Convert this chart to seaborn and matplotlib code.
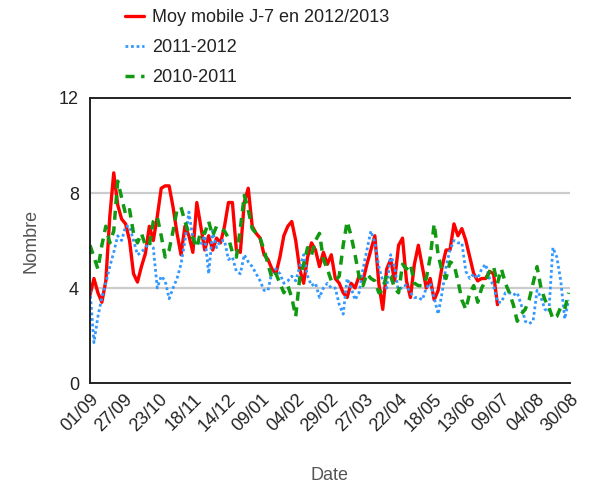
import numpy as np
import pandas as pd
import matplotlib
matplotlib.use("Agg")
import matplotlib.pyplot as plt
import seaborn as sns

# ---------------- data (one value every 3 days) ----------------
start_date = "2011-09-01"
end_date = "2012-08-30"
step = "3D"

red_label = "Moy mobile J-7 en 2012/2013"
blue_label = "2011-2012"
green_label = "2010-2011"

red_values = [
    3.7, 4.4, 3.8, 3.4, 4.3, 7.0, 8.85, 7.5, 6.9, 6.7,
    6.0, 4.6, 4.25, 4.9, 5.45, 6.6, 6.0, 7.0, 8.2, 8.3,
    8.3, 7.4, 6.3, 5.4, 6.6, 6.2, 5.5, 7.6, 6.6, 5.6,
    6.2, 5.6, 6.1, 5.9, 6.6, 7.6, 7.6, 5.6, 5.5, 7.6,
    8.2, 6.6, 6.3, 6.1, 5.4, 5.2, 4.8, 4.6, 5.3, 6.2,
    6.6, 6.8, 6.0, 4.8, 4.2, 5.3, 5.9, 5.6, 4.9, 5.5,
    5.0, 5.4, 4.4, 4.2, 3.8, 3.6, 4.2, 4.0, 4.5, 4.3,
    5.0, 5.6, 6.2, 4.2, 3.1, 4.8, 5.2, 4.3, 5.8, 6.1,
    4.3, 3.6, 5.0, 5.8, 4.9, 4.0, 4.4, 3.5, 3.9, 4.9,
    5.6, 5.6, 6.7, 6.2, 6.5, 6.0, 5.3, 4.6, 4.3, 4.4,
    4.4, 4.7, 4.6, 3.3,
]

blue_values = [
    3.9, 1.7, 2.8, 3.6, 4.2, 4.9, 5.5, 6.2, 6.0, 6.6,
    6.6, 6.0, 5.4, 5.5, 5.7, 5.9, 5.7, 4.0, 4.5, 4.3,
    3.55, 4.0, 4.4, 5.0, 6.0, 7.2, 6.1, 6.0, 5.8, 6.2,
    4.6, 6.4, 5.7, 6.0, 6.0, 5.2, 5.3, 4.7, 4.6, 5.4,
    5.1, 4.9, 4.6, 4.3, 3.9, 3.9, 4.7, 4.8, 4.6, 4.2,
    4.3, 4.5, 4.3, 4.9, 5.4, 4.5, 4.1, 4.2, 3.6, 4.0,
    4.2, 4.0, 4.0, 3.3, 2.9, 4.4, 4.0, 3.5, 3.8, 4.8,
    5.6, 6.4, 5.9, 4.9, 4.3, 4.0, 5.4, 4.9, 3.8, 4.1,
    4.1, 3.8, 3.6, 3.6, 3.5, 4.0, 4.2, 3.6, 2.9, 3.8,
    4.9, 5.6, 6.0, 5.9, 5.9, 4.7, 4.4, 4.6, 4.4, 4.8,
    5.0, 4.4, 4.1, 3.4, 3.4, 3.8, 3.8, 3.7, 3.8, 3.3,
    2.6, 2.5, 2.6, 3.9, 3.6, 3.1, 3.0, 5.7, 5.3, 4.3,
    2.7, 3.5,
]

green_values = [
    5.8, 5.3, 4.8, 5.8, 6.6, 5.9, 6.4, 8.5, 7.8, 7.1,
    7.3, 6.3, 5.9, 6.3, 5.8, 5.8, 6.8, 7.0, 6.2, 5.3,
    5.6, 6.4, 7.3, 7.4, 6.8, 6.3, 6.1, 5.7, 6.4, 6.3,
    6.8, 6.2, 6.6, 6.5, 6.4, 6.1, 5.5, 5.3, 6.5, 7.9,
    7.3, 6.5, 6.3, 6.1, 5.6, 5.0, 4.4, 4.6, 4.2, 3.8,
    4.1, 3.6, 2.8, 4.4, 5.0, 5.7, 5.4, 6.0, 6.3, 5.2,
    4.8, 4.3, 4.3, 4.5, 5.8, 6.8, 6.2, 5.4, 4.5, 4.1,
    4.6, 4.4, 4.3, 3.8, 3.9, 4.6, 4.5, 4.0, 3.8, 5.0,
    4.8, 5.0, 4.2, 4.1, 4.1, 4.4, 5.3, 6.7, 5.4, 4.7,
    4.4, 5.1, 5.0, 4.3, 3.5, 3.1, 3.8, 4.1, 3.4, 4.0,
    4.3, 4.7, 4.9, 4.2, 4.8, 4.2, 3.8, 3.3, 2.6, 2.9,
    3.1, 3.5, 4.2, 4.9, 4.0, 3.5, 3.2, 2.7, 2.8, 3.2,
    3.1, 3.8,
]

tick_labels = ["01/09", "27/09", "23/10", "18/11", "14/12", "09/01", "04/02",
               "29/02", "27/03", "22/04", "18/05", "13/06", "09/07", "04/08", "30/08"]
y_ticks = [0, 4, 8, 12]
x_title = "Date"
y_title = "Nombre"

# ---------------- build frames ----------------
red_df = pd.DataFrame({"date": pd.date_range(start_date, periods=len(red_values), freq=step),
                       "value": red_values})
blue_df = pd.DataFrame({"date": pd.date_range(start_date, periods=len(blue_values), freq=step),
                        "value": blue_values})
green_df = pd.DataFrame({"date": pd.date_range(start_date, periods=len(green_values), freq=step),
                         "value": green_values})
tick_dates = pd.date_range(start_date, end_date, periods=len(tick_labels))

# ---------------- style ----------------
sns.set_theme(style="white")
plt.rcParams["font.family"] = ["Liberation Sans", "DejaVu Sans"]

fig = plt.figure(figsize=(5.89, 4.86), dpi=100)
ax = fig.add_axes([90 / 589, 1 - 383 / 486, 480 / 589, (383 - 98) / 486])

sns.lineplot(data=red_df, x="date", y="value", ax=ax, color="#ff0000",
             linewidth=2.4, label=red_label)
sns.lineplot(data=blue_df, x="date", y="value", ax=ax, color="#3399ff",
             linewidth=2.0, label=blue_label, linestyle=(0, (1, 1)))
sns.lineplot(data=green_df, x="date", y="value", ax=ax, color="#119911",
             linewidth=2.5, label=green_label, linestyle=(0, (2.6, 1.9)))

ax.set_xlim(pd.Timestamp(start_date), pd.Timestamp(end_date))
ax.set_ylim(0, 12)
ax.set_yticks(y_ticks)
ax.set_yticklabels([str(v) for v in y_ticks], fontsize=13, color="#222222")
ax.set_xticks(tick_dates)
ax.set_xticklabels(tick_labels, rotation=45, ha="right", rotation_mode="anchor",
                   fontsize=13, color="#222222")

ax.grid(False)
for v in [4, 8]:
    ax.axhline(v, color="#cccccc", linewidth=1.6, zorder=0)

for side in ["left", "bottom", "top"]:
    ax.spines[side].set_visible(True)
    ax.spines[side].set_color("#222222")
    ax.spines[side].set_linewidth(1.4)
ax.spines["right"].set_visible(False)

ax.tick_params(axis="x", direction="inout", length=7, width=1.3, color="#222222", pad=2)
ax.tick_params(axis="y", length=0, pad=8)

ax.set_xlabel("")
ax.set_ylabel(y_title, fontsize=13, color="#555555", labelpad=14)
fig.text(330 / 589, 1 - 475 / 486, x_title, fontsize=13, color="#555555",
         ha="center", va="center")

handles, labels = ax.get_legend_handles_labels()
ax.legend_.remove()
fig.legend(handles, labels, loc="upper left", bbox_to_anchor=(125 / 589, 1 - 9 / 486),
           frameon=False, fontsize=13, handlelength=1.05, handletextpad=0.45,
           labelspacing=0.72, borderpad=0, borderaxespad=0, labelcolor="#222222")

fig.savefig("out.png", dpi=100)
